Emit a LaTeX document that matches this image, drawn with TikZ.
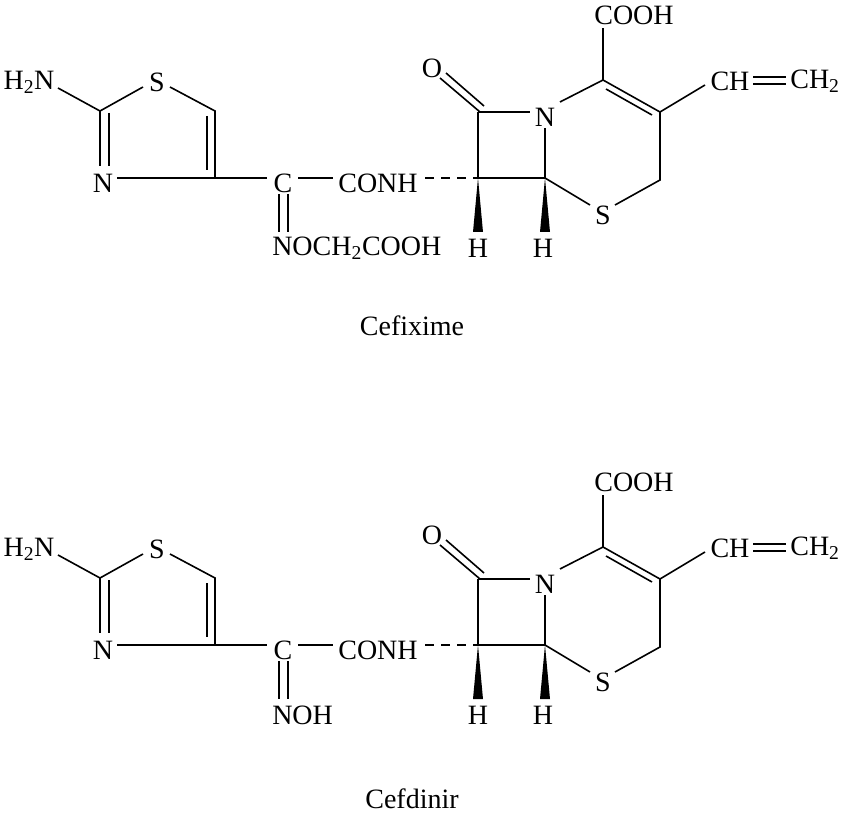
\documentclass[tikz,border=0pt]{standalone}
\usepackage{fontspec}
\setmainfont{Liberation Serif}
\tikzset{bond/.style={line width=1.2pt},
 atom/.style={inner sep=0pt,font=\fontsize{21}{23}\selectfont},
 wedge/.style={fill=black}}
\newcommand\mol[3]{%
\begin{scope}[yshift=#2]
\node[atom] (#1h2n) at (29,82) {H\textsubscript{2}N};
\node[atom] (#1s1) at (157,82) {S};
\node[atom] (#1n3) at (103,183) {N};
\node[atom] (#1c) at (283,183) {C};
\node[atom] (#1conh) at (378,183) {CONH};
\node[atom,anchor=west] (#1ox) at (272,248) {#3};
\node[atom] (#1o) at (432,68) {O};
\node[atom] (#1n) at (545,117) {N};
\node[atom] (#1s) at (603,215) {S};
\node[atom] (#1cooh) at (634,15) {COOH};
\node[atom] (#1ch) at (730,81) {CH};
\node[atom] (#1ch2) at (815,81) {CH\textsubscript{2}};
\node[atom] (#1h1) at (478,248) {H};
\node[atom] (#1h2) at (543,248) {H};
\coordinate (#1a) at (100,111);
\coordinate (#1b) at (215,111);
\coordinate (#1d) at (215,178);
\coordinate (#1c8) at (478,112);
\coordinate (#1c7) at (478,178);
\coordinate (#1c6) at (545,178);
\coordinate (#1c4) at (660,180);
\coordinate (#1c3) at (660,112);
\coordinate (#1c2) at (603,80);
\draw[bond] (58,88) -- (#1a) -- (143,87);
\draw[bond] (170,87) -- (#1b) -- (#1d);
\draw[bond] (207,116) -- (207,170);
\draw[bond] (100,111) -- (100,166) (109,113) -- (109,166);
\draw[bond] (117,178) -- (#1d) -- (267,178);
\draw[bond] (298,178) -- (333,178);
\draw[bond] (279,194) -- (279,232) (288,194) -- (288,232);
\draw[bond,dash pattern=on 7pt off 5pt] (425,178) -- (#1c7);
\draw[bond] (440,78) -- (480,112) (446,73) -- (484,106);
\draw[bond] (#1c8) -- (530,112);
\draw[bond] (#1c8) -- (#1c7) -- (#1c6) -- (545,128);
\draw[bond] (#1c6) -- (590,205);
\draw[bond] (615,205) -- (#1c4) -- (#1c3);
\draw[bond] (560,102) -- (#1c2) -- (#1c3) (606,89) -- (652,115);
\draw[bond] (#1c2) -- (603,28);
\draw[bond] (#1c3) -- (705,85);
\draw[bond] (753,77) -- (786,77) (753,84) -- (786,84);
\fill[wedge] (#1c7) -- (473,232) -- (483,232) -- cycle;
\fill[wedge] (#1c6) -- (540,232) -- (550,232) -- cycle;
\end{scope}}
\begin{document}
\begin{tikzpicture}[x=0.75pt,y=-0.75pt]
\useasboundingbox (0,0) rectangle (847,813);
\mol{p}{0}{NOCH\textsubscript{2}COOH}
\mol{q}{-350.25pt}{NOH}
\node[atom] (lab1) at (412,326) {Cefixime};
\node[atom] (lab2) at (412,799) {Cefdinir};
\end{tikzpicture}
\end{document}
